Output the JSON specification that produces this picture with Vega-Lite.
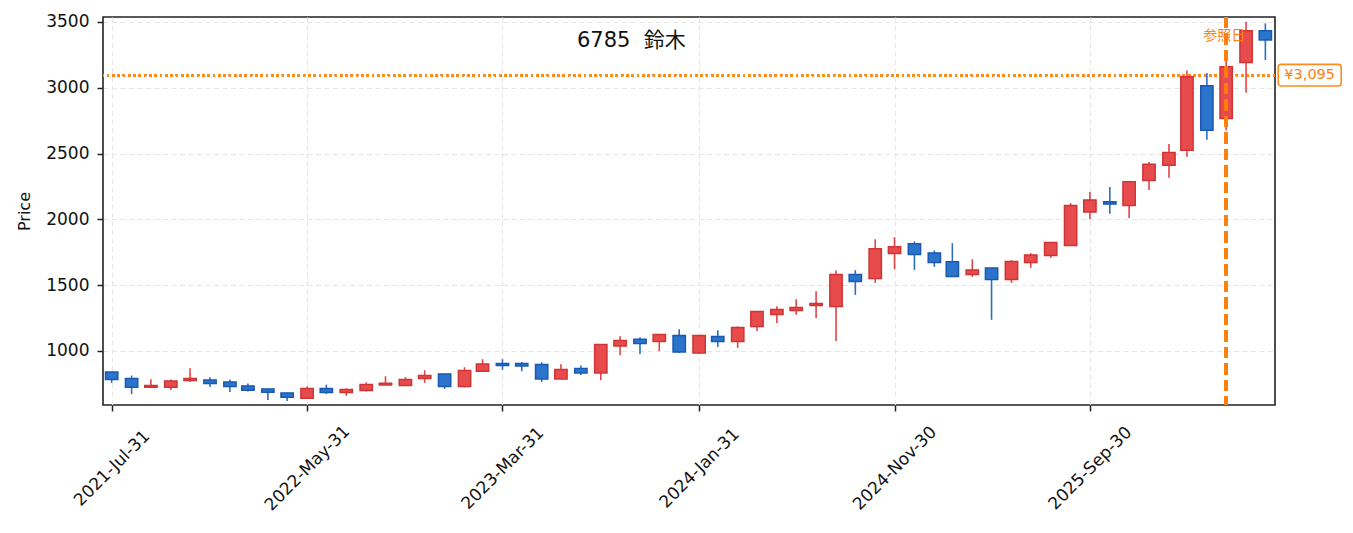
{
  "$schema": "https://vega.github.io/schema/vega-lite/v6.json",
  "width": 1172,
  "height": 388,
  "autosize": {"type": "none"},
  "padding": {"left": 103, "top": 17, "right": 78, "bottom": 128},
  "background": "white",
  "config": {
    "view": {"stroke": "#222222", "strokeWidth": 1.6},
    "axis": {
      "domain": false,
      "tickColor": "#222222",
      "tickWidth": 1.5,
      "tickSize": 6,
      "gridColor": "#e6e6e6",
      "gridDash": [5, 3.5],
      "gridWidth": 1.2,
      "labelFont": "DejaVu Sans",
      "labelFontSize": 17,
      "labelColor": "#111111",
      "titleFont": "DejaVu Sans",
      "titleFontSize": 16,
      "titleFontWeight": "normal",
      "titleColor": "#111111"
    }
  },
  "data": {
    "values": [
      {"date": "2021-07-31", "open": 840, "high": 842, "low": 757, "close": 782},
      {"date": "2021-08-31", "open": 790, "high": 813, "low": 673, "close": 724},
      {"date": "2021-09-30", "open": 724, "high": 785, "low": 722, "close": 737},
      {"date": "2021-10-31", "open": 724, "high": 782, "low": 703, "close": 772},
      {"date": "2021-11-30", "open": 775, "high": 868, "low": 764, "close": 790},
      {"date": "2021-12-31", "open": 779, "high": 800, "low": 726, "close": 752},
      {"date": "2022-01-31", "open": 764, "high": 782, "low": 688, "close": 729},
      {"date": "2022-02-28", "open": 734, "high": 752, "low": 691, "close": 701},
      {"date": "2022-03-31", "open": 711, "high": 713, "low": 627, "close": 686},
      {"date": "2022-04-30", "open": 681, "high": 683, "low": 620, "close": 648},
      {"date": "2022-05-31", "open": 640, "high": 729, "low": 638, "close": 714},
      {"date": "2022-06-30", "open": 714, "high": 744, "low": 673, "close": 684},
      {"date": "2022-07-31", "open": 684, "high": 716, "low": 658, "close": 706},
      {"date": "2022-08-31", "open": 699, "high": 762, "low": 691, "close": 744},
      {"date": "2022-09-30", "open": 741, "high": 808, "low": 740, "close": 754},
      {"date": "2022-10-31", "open": 737, "high": 800, "low": 735, "close": 782},
      {"date": "2022-11-30", "open": 790, "high": 853, "low": 757, "close": 813},
      {"date": "2022-12-31", "open": 825, "high": 827, "low": 711, "close": 729},
      {"date": "2023-01-31", "open": 729, "high": 876, "low": 722, "close": 851},
      {"date": "2023-02-28", "open": 846, "high": 937, "low": 844, "close": 901},
      {"date": "2023-03-31", "open": 904, "high": 937, "low": 856, "close": 889},
      {"date": "2023-04-30", "open": 904, "high": 916, "low": 846, "close": 886},
      {"date": "2023-05-31", "open": 897, "high": 914, "low": 764, "close": 787},
      {"date": "2023-06-30", "open": 787, "high": 899, "low": 785, "close": 859},
      {"date": "2023-07-31", "open": 866, "high": 889, "low": 817, "close": 833},
      {"date": "2023-08-31", "open": 833, "high": 1052, "low": 777, "close": 1049},
      {"date": "2023-09-30", "open": 1038, "high": 1112, "low": 967, "close": 1079},
      {"date": "2023-10-31", "open": 1089, "high": 1104, "low": 977, "close": 1056},
      {"date": "2023-11-30", "open": 1071, "high": 1128, "low": 998, "close": 1125},
      {"date": "2023-12-31", "open": 1117, "high": 1165, "low": 985, "close": 992},
      {"date": "2024-01-31", "open": 985, "high": 1120, "low": 977, "close": 1117},
      {"date": "2024-02-29", "open": 1110, "high": 1157, "low": 1030, "close": 1071},
      {"date": "2024-03-31", "open": 1071, "high": 1186, "low": 1023, "close": 1178},
      {"date": "2024-04-30", "open": 1186, "high": 1303, "low": 1152, "close": 1300},
      {"date": "2024-05-31", "open": 1277, "high": 1340, "low": 1213, "close": 1315},
      {"date": "2024-06-30", "open": 1307, "high": 1393, "low": 1274, "close": 1330},
      {"date": "2024-07-31", "open": 1345, "high": 1454, "low": 1251, "close": 1360},
      {"date": "2024-08-31", "open": 1338, "high": 1611, "low": 1076, "close": 1581},
      {"date": "2024-09-30", "open": 1581, "high": 1614, "low": 1426, "close": 1528},
      {"date": "2024-10-31", "open": 1551, "high": 1849, "low": 1517, "close": 1776},
      {"date": "2024-11-30", "open": 1741, "high": 1865, "low": 1621, "close": 1792},
      {"date": "2024-12-31", "open": 1814, "high": 1832, "low": 1616, "close": 1733},
      {"date": "2025-01-31", "open": 1745, "high": 1764, "low": 1639, "close": 1672},
      {"date": "2025-02-28", "open": 1677, "high": 1819, "low": 1564, "close": 1566},
      {"date": "2025-03-31", "open": 1581, "high": 1697, "low": 1563, "close": 1616},
      {"date": "2025-04-30", "open": 1631, "high": 1633, "low": 1236, "close": 1543},
      {"date": "2025-05-31", "open": 1543, "high": 1690, "low": 1517, "close": 1680},
      {"date": "2025-06-30", "open": 1672, "high": 1743, "low": 1631, "close": 1730},
      {"date": "2025-07-31", "open": 1726, "high": 1827, "low": 1707, "close": 1824},
      {"date": "2025-08-31", "open": 1802, "high": 2123, "low": 1800, "close": 2106},
      {"date": "2025-09-30", "open": 2055, "high": 2207, "low": 2002, "close": 2148},
      {"date": "2025-10-31", "open": 2133, "high": 2245, "low": 2042, "close": 2116},
      {"date": "2025-11-30", "open": 2106, "high": 2288, "low": 2011, "close": 2285},
      {"date": "2025-12-31", "open": 2296, "high": 2435, "low": 2224, "close": 2418},
      {"date": "2026-01-31", "open": 2412, "high": 2572, "low": 2316, "close": 2509},
      {"date": "2026-02-28", "open": 2526, "high": 3132, "low": 2475, "close": 3084},
      {"date": "2026-03-31", "open": 3015, "high": 3112, "low": 2605, "close": 2678},
      {"date": "2026-04-30", "open": 2767, "high": 3224, "low": 2678, "close": 3160},
      {"date": "2026-05-31", "open": 3193, "high": 3502, "low": 2962, "close": 3434},
      {"date": "2026-06-30", "open": 3434, "high": 3490, "low": 3211, "close": 3363}
    ]
  },
  "layer": [
    {
      "mark": {"type": "rule", "color": "#ff8c1a", "strokeWidth": 2, "strokeDash": [2, 3.3], "opacity": 0.9},
      "encoding": {"y": {"datum": 3095}}
    },
    {
      "mark": {"type": "rule", "strokeWidth": 1.6},
      "encoding": {
        "x": {
          "field": "date",
          "type": "temporal",
          "title": null,
          "scale": {
            "type": "utc",
            "nice": false,
            "padding": 0,
            "domain": [
              {"year": 2021, "month": 7, "date": 17, "hours": 12, "utc": true},
              {"year": 2026, "month": 7, "date": 15, "utc": true}
            ]
          },
          "axis": {
            "title": null,
            "grid": true,
            "values": [
              {"year": 2021, "month": 7, "date": 31, "utc": true},
              {"year": 2022, "month": 5, "date": 31, "utc": true},
              {"year": 2023, "month": 3, "date": 31, "utc": true},
              {"year": 2024, "month": 1, "date": 31, "utc": true},
              {"year": 2024, "month": 11, "date": 30, "utc": true},
              {"year": 2025, "month": 9, "date": 30, "utc": true}
            ],
            "format": "%Y-%b-%d",
            "labelAngle": -45,
            "labelAlign": "center",
            "labelBaseline": "middle",
            "labelPadding": 57,
            "labelOverlap": false,
            "labelBound": false,
            "labelFlush": false
          }
        },
        "y": {
          "field": "low",
          "type": "quantitative",
          "title": "Price",
          "scale": {"domain": [589, 3538], "nice": false, "zero": false, "padding": 0},
          "axis": {
            "title": "Price",
            "grid": true,
            "values": [1000, 1500, 2000, 2500, 3000, 3500],
            "format": "d",
            "labelPadding": 8,
            "titlePadding": 13
          }
        },
        "y2": {"field": "high"},
        "color": {
          "condition": {"test": "datum.close >= datum.open", "value": "#e24646"},
          "value": "#2a6fc6"
        }
      }
    },
    {
      "mark": {"type": "bar", "size": 12.3, "strokeWidth": 1.5},
      "encoding": {
        "x": {"field": "date", "type": "temporal", "title": null},
        "y": {"field": "open", "type": "quantitative", "title": "Price"},
        "y2": {"field": "close"},
        "fill": {
          "condition": {"test": "datum.close >= datum.open", "value": "#e84b4b"},
          "value": "#2b74cc"
        },
        "stroke": {
          "condition": {"test": "datum.close >= datum.open", "value": "#d03434"},
          "value": "#1a58b2"
        }
      }
    },
    {
      "mark": {"type": "rule", "color": "#ff7f0e", "strokeWidth": 2.6, "strokeDash": [11, 5.5]},
      "encoding": {
        "x": {"datum": {"year": 2026, "month": 4, "date": 30, "utc": true}, "type": "temporal"}
      }
    },
    {
      "data": {"values": [{"label": "参照日"}]},
      "mark": {"type": "text", "color": "#ff7f0e", "font": "Noto Sans CJK JP", "fontSize": 14, "align": "center", "baseline": "middle"},
      "encoding": {
        "x": {"datum": {"year": 2026, "month": 4, "date": 27, "utc": true}, "type": "temporal"},
        "y": {"datum": 3391},
        "text": {"field": "label"}
      }
    },
    {
      "data": {"values": [{"label": "6785\u00a0\u00a0鈴木"}]},
      "mark": {"type": "text", "color": "#111111", "font": "DejaVu Sans, Noto Sans CJK JP", "fontSize": 21, "align": "center", "baseline": "middle"},
      "encoding": {
        "x": {"datum": {"year": 2023, "month": 10, "date": 17, "hours": 14, "utc": true}, "type": "temporal"},
        "y": {"datum": 3358},
        "text": {"field": "label"}
      }
    },
    {
      "data": {"values": [{"label": "¥3,095"}]},
      "mark": {"type": "rect", "fill": "white", "stroke": "#ff8c1a", "strokeWidth": 1.6, "cornerRadius": 3},
      "encoding": {
        "x": {"datum": {"year": 2026, "month": 7, "date": 20, "utc": true}, "type": "temporal"},
        "x2": {"datum": {"year": 2026, "month": 10, "date": 26, "utc": true}},
        "y": {"datum": 3178},
        "y2": {"datum": 3013}
      }
    },
    {
      "data": {"values": [{"label": "¥3,095"}]},
      "mark": {"type": "text", "color": "#ff7f0e", "font": "DejaVu Sans", "fontSize": 14.5, "align": "center", "baseline": "middle"},
      "encoding": {
        "x": {"datum": {"year": 2026, "month": 9, "date": 7, "utc": true}, "type": "temporal"},
        "y": {"datum": 3095},
        "text": {"field": "label"}
      }
    }
  ]
}
